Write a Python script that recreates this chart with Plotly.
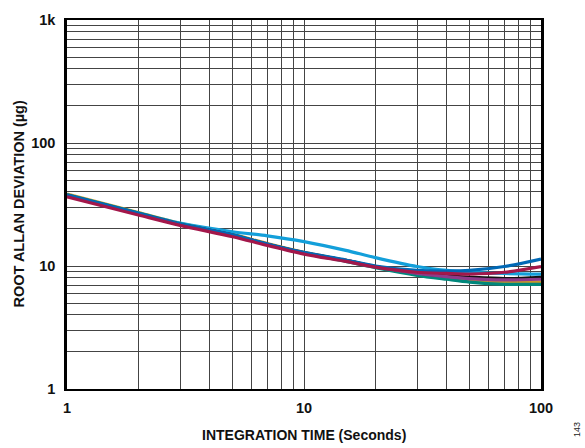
import plotly.graph_objects as go

# Integration time (s) and root Allan deviation (µg) per device
tau = [1, 2, 3, 5, 7, 10, 15, 20, 30, 40, 50, 70, 100]

dev_orange = [38.5, 27.2, 22.2, 18.1, 15.2, 12.9, 11.1, 9.9, 8.6, 8.0, 7.7, 7.4, 7.4]
dev_lightblue = [38.0, 27.0, 22.3, 19.0, 17.6, 15.8, 13.4, 11.7, 9.9, 9.2, 8.9, 8.7, 8.6]
dev_teal = [38.0, 27.0, 22.0, 17.9, 15.0, 12.7, 10.9, 9.7, 8.4, 7.8, 7.4, 7.1, 7.1]
dev_black = [37.5, 26.6, 21.8, 17.8, 15.0, 12.8, 11.1, 9.9, 8.8, 8.3, 8.1, 7.9, 8.1]
dev_purple = [37.5, 26.6, 21.8, 17.8, 15.0, 12.8, 11.1, 9.9, 8.7, 8.2, 7.9, 7.7, 7.8]
dev_darkblue = [37.8, 26.8, 21.9, 17.9, 15.1, 12.9, 11.2, 10.0, 9.2, 9.1, 9.2, 9.9, 11.4]
dev_red = [36.5, 26.0, 21.4, 17.3, 14.7, 12.5, 10.9, 9.8, 8.9, 8.7, 8.6, 8.9, 9.9]

series = [
    (dev_orange, "#C9962B"),
    (dev_lightblue, "#139FDA"),
    (dev_teal, "#00877B"),
    (dev_black, "#111111"),
    (dev_purple, "#8E3A8A"),
    (dev_darkblue, "#0068B5"),
    (dev_red, "#A3174A"),
]

# Log grid: a line at every 1..9 multiple, labels only on decades
x_ticks = [m * d for d in (1, 10) for m in range(1, 10)] + [100]
x_text = ["<b>%g</b>" % v if v in (1, 10, 100) else "" for v in x_ticks]
y_ticks = [m * d for d in (1, 10, 100) for m in range(1, 10)] + [1000]
y_labels = {1: "1", 10: "10", 100: "100", 1000: "1k"}
y_text = ["<b>%s</b>" % y_labels[v] if v in y_labels else "" for v in y_ticks]

font = "Liberation Sans, Arial, sans-serif"

fig = go.Figure()
for vals, col in series:
    fig.add_trace(go.Scatter(
        x=tau, y=vals, mode="lines",
        line=dict(color=col, width=3.2, shape="spline", smoothing=0.8),
        showlegend=False, hoverinfo="skip",
    ))

axis_common = dict(
    type="log", showgrid=True, gridcolor="#444444", gridwidth=1.2,
    showline=True, linecolor="#000", linewidth=1.5, mirror=True,
    ticks="", zeroline=False,
    tickfont=dict(family=font, size=14.5, color="#111"),
)

fig.update_xaxes(range=[0, 2], tickvals=x_ticks, ticktext=x_text,
                 ticklabelstandoff=5, **axis_common)
fig.update_yaxes(range=[0, 3], tickvals=y_ticks, ticktext=y_text,
                 ticklabelstandoff=6, **axis_common)
fig.update_yaxes(linewidth=2.5)

fig.update_layout(
    width=585, height=448,
    margin=dict(l=67, r=44, t=13, b=59),
    paper_bgcolor="white", plot_bgcolor="white",
    font=dict(family=font, color="#111"),
    annotations=[
        dict(text="<b>INTEGRATION TIME (Seconds)</b>", xref="paper", yref="paper",
             x=0.5, y=0, yshift=-46, xanchor="center", yanchor="middle",
             showarrow=False, font=dict(size=14, family=font, color="#111")),
        dict(text="<b>ROOT ALLAN DEVIATION (µg)</b>", xref="paper", yref="paper",
             x=0, xshift=-49, y=0.5, xanchor="center", yanchor="middle", textangle=-90,
             showarrow=False, font=dict(size=14.5, family=font, color="#111")),
        dict(text="143", xref="paper", yref="paper",
             x=1, xshift=36, y=0, yshift=-41, xanchor="center", yanchor="middle", textangle=-90,
             showarrow=False, font=dict(size=9, family=font, color="#222")),
    ],
)

fig.write_html("out.html")
